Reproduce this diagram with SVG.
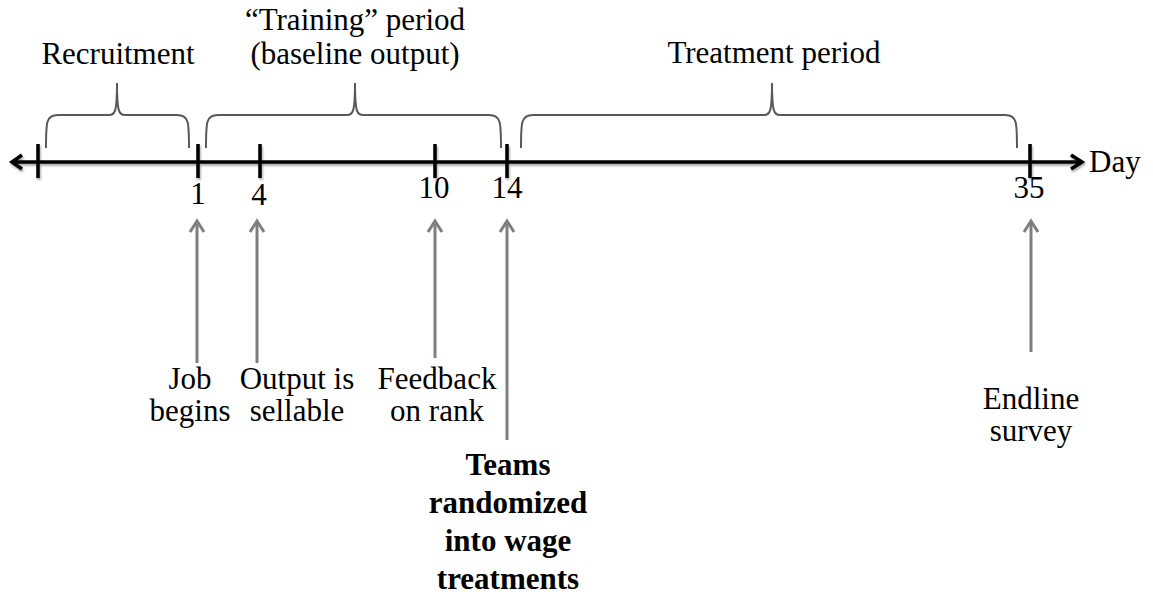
<svg xmlns="http://www.w3.org/2000/svg" width="1153" height="599" viewBox="0 0 1153 599">
<style>
text{font-family:'Liberation Serif','DejaVu Serif',serif;font-size:31px;fill:#000}
.b{font-weight:bold}
.brace{fill:none;stroke:#595959;stroke-width:2}
.axis{fill:none;stroke:#000;stroke-width:3.5}
.tick{stroke:#000;stroke-width:3.5}
.ptr{fill:none;stroke:#7f7f7f;stroke-width:3}
</style>
<defs>
<filter id="sh" x="-5%" y="-50%" width="110%" height="200%"><feGaussianBlur in="SourceAlpha" stdDeviation="1.2"/><feOffset dx="1" dy="2"/><feComponentTransfer><feFuncA type="linear" slope="0.35"/></feComponentTransfer><feMerge><feMergeNode/><feMergeNode in="SourceGraphic"/></feMerge></filter>
</defs>
<rect width="1153" height="599" fill="#fff"/>
<g id="axis" filter="url(#sh)">
<line class="axis" x1="12" y1="162" x2="1081" y2="162"/>
<polyline class="axis" points="22,155 12,162 22,169"/>
<polyline class="axis" points="1071,155 1082,162 1071,169"/>
<line class="tick" x1="38" y1="144" x2="38" y2="178"/>
<line class="tick" x1="198" y1="144" x2="198" y2="178"/>
<line class="tick" x1="260" y1="144" x2="260" y2="178"/>
<line class="tick" x1="435" y1="144" x2="435" y2="178"/>
<line class="tick" x1="507" y1="144" x2="507" y2="178"/>
<line class="tick" x1="1030" y1="144" x2="1030" y2="178"/>
</g>
<g id="day-label"><text x="1089" y="172">Day</text></g>
<g id="ticks-labels">
<text x="198" y="204" text-anchor="middle">1</text>
<text x="259" y="205" text-anchor="middle">4</text>
<text x="434" y="198" text-anchor="middle">10</text>
<text x="507" y="198" text-anchor="middle">14</text>
<text x="1029" y="198" text-anchor="middle">35</text>
</g>
<g id="recruitment">
<path class="brace" d="M46,148 C46,122 46,115 58,115 L109,115 C115,115 117,112 117,83 C117,112 119,115 125,115 L177,115 C189,115 189,122 189,148"/>
<text x="118" y="64" text-anchor="middle">Recruitment</text>
</g>
<g id="training">
<path class="brace" d="M206,148 C206,122 206,115 218,115 L347,115 C353,115 355,112 355,83 C355,112 357,115 363,115 L489,115 C501,115 501,122 501,148"/>
<text x="355" y="30" text-anchor="middle">“Training” period</text>
<text x="355" y="64" text-anchor="middle">(baseline output)</text>
</g>
<g id="treatment">
<path class="brace" d="M521,148 C521,122 521,115 533,115 L764,115 C770,115 772,112 772,83 C772,112 774,115 780,115 L1005,115 C1017,115 1017,122 1017,148"/>
<text x="774" y="63" text-anchor="middle">Treatment period</text>
</g>
<g id="connectors">
<line class="ptr" x1="197" y1="363" x2="197" y2="222"/>
<polyline class="ptr" points="190,232 197,221 204,232"/>
<line class="ptr" x1="257" y1="363" x2="257" y2="222"/>
<polyline class="ptr" points="250,232 257,221 264,232"/>
<line class="ptr" x1="435" y1="358" x2="435" y2="222"/>
<polyline class="ptr" points="428,232 435,221 442,232"/>
<line class="ptr" x1="507" y1="440" x2="507" y2="222"/>
<polyline class="ptr" points="500,232 507,221 514,232"/>
<line class="ptr" x1="1031" y1="352" x2="1031" y2="222"/>
<polyline class="ptr" points="1024,232 1031,221 1038,232"/>
</g>
<g id="job-begins">
<text x="190" y="389" text-anchor="middle">Job</text>
<text x="190" y="421" text-anchor="middle">begins</text>
</g>
<g id="output-sellable">
<text x="297" y="389" text-anchor="middle">Output is</text>
<text x="297" y="421" text-anchor="middle">sellable</text>
</g>
<g id="feedback">
<text x="437" y="389" text-anchor="middle">Feedback</text>
<text x="437" y="421" text-anchor="middle">on rank</text>
</g>
<g id="teams">
<text class="b" x="508" y="475" text-anchor="middle">Teams</text>
<text class="b" x="508" y="513" text-anchor="middle">randomized</text>
<text class="b" x="508" y="551" text-anchor="middle">into wage</text>
<text class="b" x="508" y="589" text-anchor="middle">treatments</text>
</g>
<g id="endline">
<text x="1031" y="409" text-anchor="middle">Endline</text>
<text x="1031" y="441" text-anchor="middle">survey</text>
</g>
</svg>
